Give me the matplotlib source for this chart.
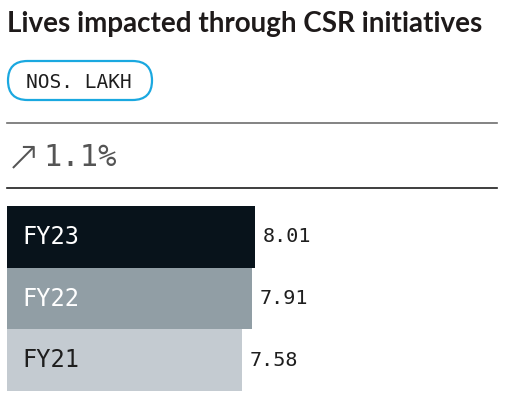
import matplotlib.pyplot as plt
from matplotlib.patches import FancyBboxPatch
from matplotlib.lines import Line2D
from matplotlib.transforms import IdentityTransform

years = ["FY23", "FY22", "FY21"]
values = [8.01, 7.91, 7.58]
bar_colors = ["#08131b", "#919ea5", "#c4cbd1"]
label_colors = ["white", "white", "#1e1e1e"]
title = "Lives impacted through CSR initiatives"
unit = "NOS. LAKH"
change = "1.1%"

W, H = 505, 393
fig = plt.figure(figsize=(W / 100, H / 100), dpi=100)


def fx(x):
    return x / W


def fy(y):
    return 1 - y / H


mono = "DejaVu Sans Mono"

fig.text(fx(7), fy(24), title, fontsize=20, fontweight="bold", family="Lato",
         color="#1e1a1a", va="center", ha="left")

# unit pill
pill = FancyBboxPatch((8, H - 100), 144, 39, boxstyle="round,pad=0,rounding_size=19.5",
                      transform=IdentityTransform(), fc="white", ec="#1aa8e0", lw=1.6)
fig.patches.append(pill)
fig.text(fx(79), fy(82), unit, fontsize=14, family=mono, color="#1e1e1e",
         va="center", ha="center")

fig.add_artist(Line2D([fx(7), fx(497)], [fy(123), fy(123)], color="#6e6e6e", lw=1.2))
fig.add_artist(Line2D([fx(7), fx(497)], [fy(188), fy(188)], color="#1e1e1e", lw=1.2))

fig.text(fx(6), fy(157), "\u2197", fontsize=30, family="DejaVu Sans", color="#555555",
         va="center", ha="left", fontweight="light")
fig.text(fx(43), fy(158), change, fontsize=22, family=mono, color="#555555",
         va="center", ha="left")

# bars
ax = fig.add_axes([fx(7), 2 / H, fx(490), 185 / H])
pos = list(range(len(years)))[::-1]
ax.barh(pos, values, height=1.0, color=bar_colors)
ax.set_xlim(0, 490 / 30.95)
ax.set_ylim(-0.5, 2.5)
ax.axis("off")
for p, yr, v, lc in zip(pos, years, values, label_colors):
    ax.text(0.5, p, yr, fontsize=17, family=mono, color=lc, va="center", ha="left")
    ax.text(v + 0.25, p, f"{v:.2f}", fontsize=14.5, family=mono, color="#1e1e1e",
            va="center", ha="left")

fig.savefig("out.png", dpi=100)
